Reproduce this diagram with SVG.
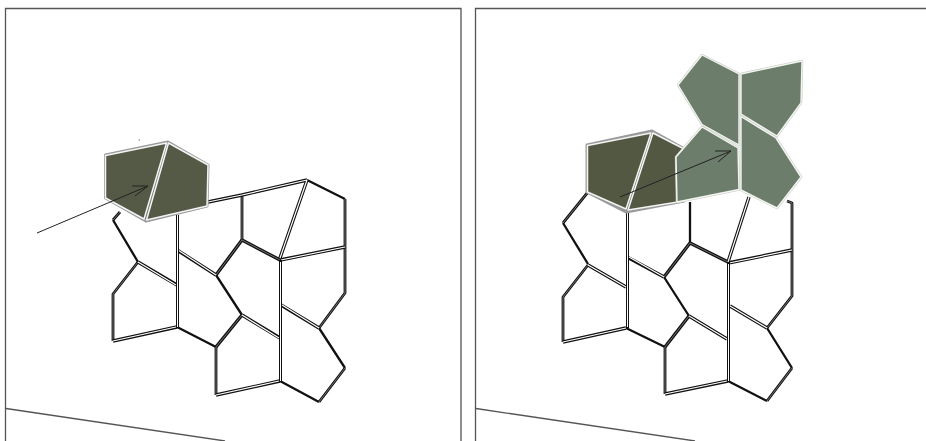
<svg xmlns="http://www.w3.org/2000/svg" width="926" height="441" viewBox="0 0 926 441">
<style>
.frame{fill:none;stroke:#555;stroke-width:1.3}
.e{fill:none;stroke:#111;stroke-linejoin:round;stroke-linecap:butt}
.wb{stroke-width:3.4}
.wt{fill:none;stroke:#fff;stroke-width:1.2}
.gb{stroke-width:2.8}
.gt{fill:none;stroke:#999;stroke-width:.7}
.s{stroke-width:2.3}
.v{stroke-width:3}
.vt{fill:none;stroke:#fff;stroke-width:1}
.halo{fill:#777;stroke:#999;stroke-width:3;stroke-linejoin:round}
.dark{fill:#555a47;stroke:#f4f4f4;stroke-width:1.5;stroke-linejoin:round}
.dark2{fill:#535843;stroke:#f4f4f4;stroke-width:1.5;stroke-linejoin:round}
.ghalo{fill:none;stroke:#c4c8c0;stroke-width:2.4;stroke-linejoin:round}
.green{fill:#6c7d6b;stroke:#f4f6f2;stroke-width:1.4;stroke-linejoin:round}
.arrow{fill:none;stroke:#222;stroke-width:1}
</style>
<g id="frames">
<path class="frame" d="M5.500 441V8.500H461V441"/>
<path class="frame" d="M475.500 441V8.500H926"/>
<path class="frame" d="M6 408.500L225 441"/>
<path class="frame" d="M476 408.500L695 441"/>
</g>
<g id="connectors-left">
<path class="e s" d="M216 275L242 315M280 381L319 402M345 368L319 328M345 199L307 180M113 220L138 262M216 347L177 327"/>
<path class="e gb" d="M120 212L113 220M138 262L113 294L113 341M216 347L216 395M319 402L345 368M319 328L345 293L345 247L345 199M242 195L242 240"/>
<path class="gt" d="M120 212L113 220M138 262L113 294L113 341M216 347L216 395M319 402L345 368M319 328L345 293L345 247L345 199M242 195L242 240"/>
<path class="e wb" d="M138 262L177 285M177 250L216 275M242 315L280 338M281 305L319 328M177 327L113 341M280 381L216 395M280 260L345 247M307 180L280 258M208 202L242 195L307 180M216 275L242 240M242 240L280 260M242 315L216 347"/>
<path class="wt" d="M138 262L176 285M178 250L216 275M242 315L279 338M282 305L319 328M176 327L113 341M279 381L216 395M281 260L345 247M307 180L280 258M208 202L242 195L307 180"/>
<path class="gt" d="M216 275L242 240M242 240L280 260M242 315L216 347"/>
<path class="e v" d="M177.500 215V328M280.500 260V382"/>
<path class="vt" d="M177.500 215V327M280.500 262V381"/>
</g>
<g id="dark-left">
<polygon class="halo" points="105.500,155 168,142 208,165 207,206 146,221 105.500,198"/>
<polygon class="dark" points="105.500,155.500 166.500,143 144,219 105.500,198"/>
<polygon class="dark" points="168.500,143 208,165 207,206 146.500,220"/>
</g>
<rect id="speck" x="138.500" y="139.500" width="1.500" height="1" fill="#777"/>
<g id="arrow-left">
<path class="arrow" d="M37 233L148 186M132 186L148 186L135 196"/>
</g>
<g id="connectors-right">
<path class="e s" d="M664 277L689 316M728 381L767 401M792 368L767 328M563 223L588 264M665 347L626 328M690 202L690 243"/>
<path class="e gb" d="M588 192L563 223M588 265L563 297L563 342M665 347L665 394M767 401L792 368M767 328L792 296L792 250L792 203L787 201"/>
<path class="gt" d="M588 192L563 223M588 265L563 297L563 342M665 347L665 394M767 401L792 368M767 328L792 296L792 250L792 203L787 201"/>
<path class="e wb" d="M588 265L626 287M627 257L664 277M689 316L727 339M730 306L767 328M626 328L563 342M728 381L665 394M728 263L792 250M749 197L728 262M664 277L690 243M690 243L728 262M689 316L665 347"/>
<path class="wt" d="M588 265L626 287M629 257L664 277M689 316L727 339M730 306L767 328M626 328L563 342M727 381L665 394M729 263L792 250M749 197L728 262"/>
<path class="gt" d="M664 277L690 243M690 243L728 262M689 316L665 347"/>
<path class="e v" d="M627.500 212V328M728.500 262V382"/>
<path class="vt" d="M627.500 212V327M728.500 264V381"/>
</g>
<g id="dark-right">
<polygon class="halo" points="587,145 652,131 690,152 684,201 626,212 587,192"/>
<polygon class="dark2" points="587.500,145.500 651,133 626,209 587.500,192"/>
<polygon class="dark2" points="653,133 690,152 684,201 628,210"/>
</g>
<g id="green-1"><polygon class="ghalo" points="702,127 738,148 739,189.500 677,202 676,157"/><polygon class="green" points="702,127 738,148 739,189.500 677,202 676,157"/></g>
<g id="green-2"><polygon class="ghalo" points="702,55 739,74 739,145 702,124.500 678,85"/><polygon class="green" points="702,55 739,74 739,145 702,124.500 678,85"/></g>
<g id="green-3"><polygon class="ghalo" points="741,74 802,61 801,103 777,136 741,114"/><polygon class="green" points="741,74 802,61 801,103 777,136 741,114"/></g>
<g id="green-4"><polygon class="ghalo" points="741,116.500 776,138 801,177 777,208 741,190"/><polygon class="green" points="741,116.500 776,138 801,177 777,208 741,190"/></g>
<g id="arrow-right">
<path class="arrow" d="M620 197L731 151M715 151L731 151L718 162"/>
</g>
</svg>
